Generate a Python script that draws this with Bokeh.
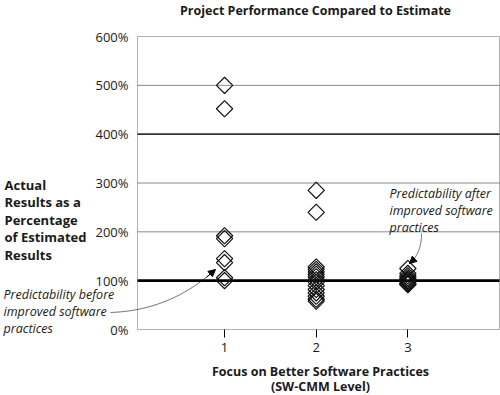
import math
from bokeh.plotting import figure
from bokeh.models import (Range1d, FixedTicker, PrintfTickFormatter, Label, BoxAnnotation,
                          PolyAnnotation, Arrow, NormalHead, ColumnDataSource)
from bokeh.embed import file_html
from bokeh.resources import INLINE

# ---------------- data ----------------
level1_pct = [500, 452, 192, 186, 145, 137, 106, 100]
level2_pct = [285, 240, 128, 123, 118, 113, 108, 102, 97, 90, 82, 75, 68, 62, 58]
level3_pct = [125, 115, 110, 106, 103, 100, 98, 95, 93, 92]
levels = [1, 2, 3]
y_ticks = [0, 100, 200, 300, 400, 500, 600]
thin_grid = [200, 300, 500]
mid_grid = [400]
heavy_grid = [100]
title_text = "Project Performance Compared to Estimate"
ylabel_lines = ["Actual", "Results as a", "Percentage", "of Estimated", "Results"]
xlabel_lines = ["Focus on Better Software Practices", "(SW-CMM Level)"]
note_before = ["Predictability before", "improved software", "practices"]
note_after = ["Predictability after", "improved software", "practices"]

xs = [1] * len(level1_pct) + [2] * len(level2_pct) + [3] * len(level3_pct)
ys = level1_pct + level2_pct + level3_pct
src = ColumnDataSource(dict(x=xs, y=ys))

# ---------------- layout ----------------
W, H = 500, 395
PL, PR, PT, PB = 137, 499, 36, 329          # plot box in canvas pixels
X0, X1, Y0, Y1 = 0.05, 4.0, 0, 600            # data extent of the plot box
FONT = "Open Sans"
INK = "#1a1a1a"

kx = (X1 - X0) / (PR - PL)
ky = (Y1 - Y0) / (PB - PT)
x_range = Range1d(X0 - PL * kx, X1 + (W - PR) * kx)
y_range = Range1d(Y0 - (H - PB) * ky, Y1 + PT * ky)

p = figure(width=W, height=H, x_range=x_range, y_range=y_range,
           output_backend="svg", toolbar_location=None, title=None,
           min_border_left=0, min_border_right=0, min_border_top=0,
           min_border_bottom=0)
p.background_fill_color = "white"
p.border_fill_color = "white"
p.outline_line_color = None
p.xgrid.visible = False
p.ygrid.visible = False

# grid lines across the plot box
def hlines(vals, color, width):
    n = len(vals)
    p.segment(x0=[X0] * n, y0=vals, x1=[X1] * n, y1=vals, line_color=color,
              line_width=width)

hlines(thin_grid, "#8a8a8a", 1)
hlines(mid_grid, "#333333", 1.8)
hlines(heavy_grid, "black", 2.8)

# plot box
p.add_layout(BoxAnnotation(left=X0, right=X1, bottom=Y0, top=Y1, fill_color=None,
                           fill_alpha=0, line_color="black", line_width=1))

# axes fixed to the plot box
p.yaxis.fixed_location = X0
p.yaxis.bounds = (Y0, Y1)
p.yaxis.ticker = FixedTicker(ticks=y_ticks)
p.yaxis.formatter = PrintfTickFormatter(format="%d%%")
p.yaxis.major_tick_out = 0
p.yaxis.major_tick_in = 0
p.yaxis.minor_tick_line_color = None
p.yaxis.axis_line_color = None
p.yaxis.major_label_standoff = 9
p.yaxis.major_label_text_font = FONT
p.yaxis.major_label_text_font_size = "13px"
p.yaxis.major_label_text_color = INK

p.xaxis.fixed_location = Y0
p.xaxis.bounds = (X0, X1)
p.xaxis.ticker = FixedTicker(ticks=levels)
p.xaxis.major_tick_out = 8
p.xaxis.major_tick_in = 0
p.xaxis.major_tick_line_color = "black"
p.xaxis.minor_tick_line_color = None
p.xaxis.axis_line_color = None
p.xaxis.major_label_standoff = 5
p.xaxis.major_label_text_font = FONT
p.xaxis.major_label_text_font_size = "13px"
p.xaxis.major_label_text_color = INK

# points (diamonds, unfilled)
p.scatter("x", "y", source=src, marker="square", angle=math.pi / 4, size=11.5,
          fill_color=None, line_color="#111111", line_width=1.2)


def text(x, y, t, size, style, align="left"):
    p.add_layout(Label(x=x, y=y, x_units="canvas", y_units="canvas", text=t,
                       text_align=align, text_baseline="middle", text_font=FONT,
                       text_font_size=size, text_font_style=style, text_color=INK))


text(315, 10, title_text, "12.5px", "bold", "center")
for i, t in enumerate(ylabel_lines):
    text(4, 184 + 17.5 * i, t, "13px", "bold")
for i, t in enumerate(xlabel_lines):
    text(320, 371 + 15 * i, t, "12.5px", "bold", "center")
for i, t in enumerate(note_before):
    text(3, 294 + 17 * i, t, "12.5px", "italic")
for i, t in enumerate(note_after):
    text(389, 193 + 17 * i, t, "12.5px", "italic")


def curved_arrow(p0, c, p1):
    pts = []
    n = 30
    for k in range(n + 1):
        t = k / n
        x = (1 - t) ** 2 * p0[0] + 2 * (1 - t) * t * c[0] + t ** 2 * p1[0]
        y = (1 - t) ** 2 * p0[1] + 2 * (1 - t) * t * c[1] + t ** 2 * p1[1]
        pts.append((x, y))
    fx = [q[0] for q in pts]
    fy = [q[1] for q in pts]
    p.add_layout(PolyAnnotation(xs=fx + fx[::-1], ys=fy + fy[::-1], xs_units="canvas",
                                ys_units="canvas", fill_color=None, fill_alpha=0,
                                line_color="black", line_width=1))
    a = pts[-4]
    b = pts[-1]
    p.add_layout(Arrow(end=NormalHead(size=7, fill_color="black", line_color="black",
                                      line_width=1),
                       x_start=a[0], y_start=a[1], x_end=b[0], y_end=b[1],
                       start_units="canvas", end_units="canvas",
                       line_color="black", line_width=1))


curved_arrow((110, 312), (170, 310), (215, 269))
curved_arrow((421, 233), (421, 253), (409, 263))

open("out.html", "w").write(file_html(p, INLINE))
